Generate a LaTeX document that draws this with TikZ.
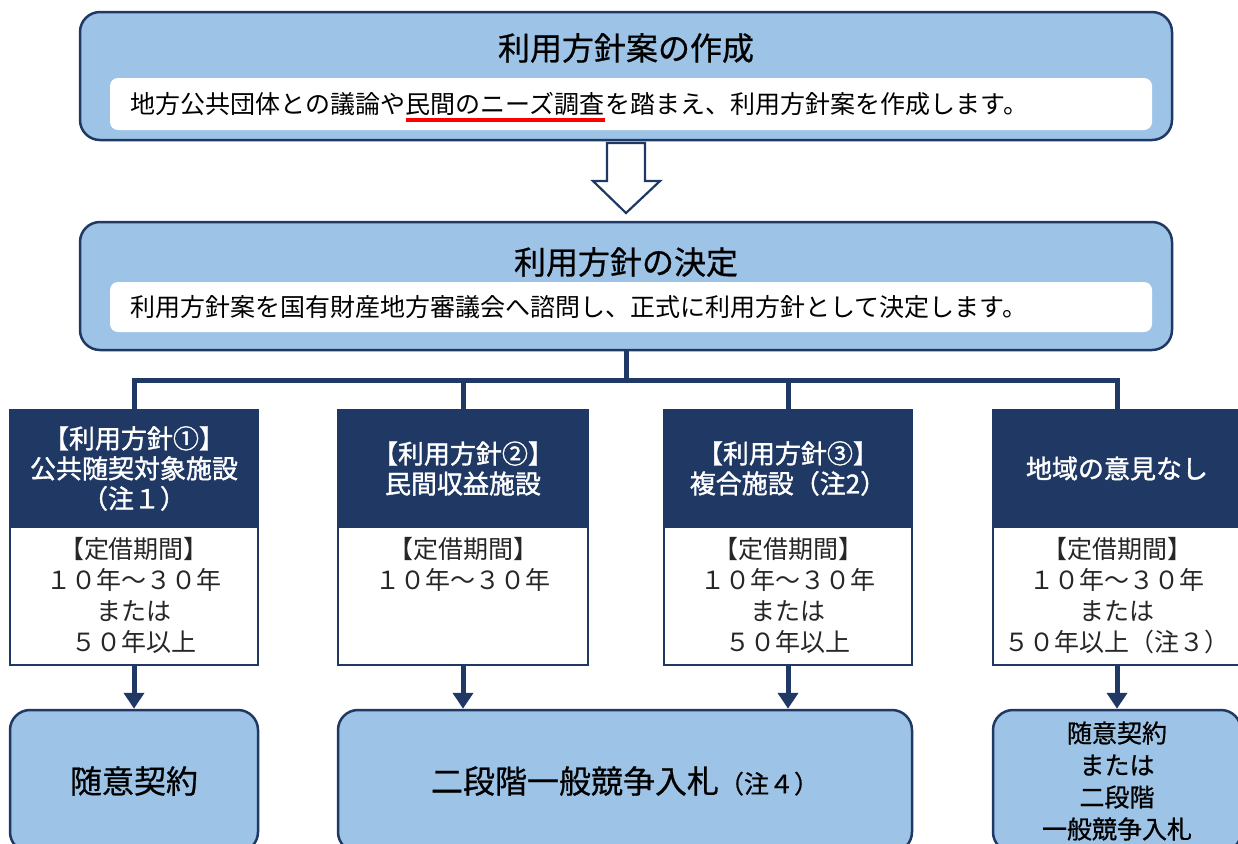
\documentclass[tikz,border=0pt]{standalone}
\usepackage{fontspec}
\setmainfont{Noto Sans CJK JP}
\newfontfamily\medfont[FakeBold=0.7]{Noto Sans CJK JP}
\newfontfamily\semifont[FakeBold=1.4]{Noto Sans CJK JP}
\usetikzlibrary{arrows.meta}
\definecolor{lb}{HTML}{9DC3E6}
\definecolor{navy}{HTML}{1F3864}
\definecolor{txt}{HTML}{262626}
\begin{document}
\begin{tikzpicture}[x=0.5pt,y=-0.5pt,
  bigbox/.style={draw=navy, line width=1.25pt, fill=lb, rounded corners=10pt, inner sep=0pt, minimum width=546pt, minimum height=64pt},
  whitebar/.style={fill=white, rounded corners=4pt, inner sep=0pt, minimum width=521pt, minimum height=26pt},
  titletxt/.style={font=\medfont\fontsize{16}{19}\selectfont, inner sep=0pt},
  subtxt/.style={font=\fontsize{12.5}{15}\selectfont, inner sep=0pt, anchor=west},
  headbox/.style={draw=navy, fill=navy, line width=1pt, text=white, align=center, font=\semifont\fontsize{13}{15}\selectfont, minimum width=124pt, minimum height=58.5pt, inner sep=0pt},
  bodybox/.style={draw=navy, fill=white, line width=1pt, minimum width=124pt, minimum height=69pt, inner sep=0pt},
  bodytxt/.style={text=txt, align=center, font=\fontsize{12.5}{15.5}\selectfont, inner sep=0pt, anchor=north},
  resbox/.style={draw=navy, line width=1.25pt, fill=lb, rounded corners=10pt, inner sep=0pt, minimum height=71pt, align=center},
  conn/.style={draw=navy, line width=2.5pt},
  arr/.style={draw=navy, line width=2.5pt, -{Triangle[width=10pt,length=8pt]}}
]
\useasboundingbox (0,0) rectangle (1238,843);

% top box
\node[bigbox] (make) at (626,76) {};
\node[titletxt] (maket) at (626,48) {利用方針案の作成};
\node[whitebar] (makew) at (631,104) {};
\node[subtxt] (s1) at (130,104) {地方公共団体との議論や};
\node[subtxt] (s2) at (s1.east) {民間のニーズ調査};
\node[subtxt] (s3) at (s2.east) {を踏まえ、利用方針案を作成します。};
\draw[red, line width=1.6pt] ([yshift=-2pt]s2.south west) -- ([yshift=-2pt]s2.south east);

% hollow arrow
\draw[navy, line width=1.1pt, fill=white, line join=miter]
  (607,143) -- (645,143) -- (645,181) -- (660,181) -- (626,213) -- (593,181) -- (607,181) -- cycle;

% second box
\node[bigbox] (dec) at (626,286) {};
\node[titletxt] (dect) at (626,262) {利用方針の決定};
\node[whitebar, minimum height=25pt] (decw) at (631,307) {};
\node[subtxt] (d1) at (130,307) {利用方針案を国有財産地方審議会へ諮問し、正式に利用方針として決定します。};

% columns
\node[headbox] (h1) at (134,468.5) {【利用方針①】\\公共随契対象施設\\（注１）};
\node[headbox, minimum width=125pt] (h2) at (463,468.5) {【利用方針②】\\民間収益施設};
\node[headbox] (h3) at (788,468.5) {【利用方針③】\\複合施設（注2）};
\node[headbox] (h4) at (1117,468.5) {地域の意見なし};

\node[bodybox] (b1) at (134,596) {};
\node[bodybox, minimum width=125pt] (b2) at (463,596) {};
\node[bodybox] (b3) at (788,596) {};
\node[bodybox] (b4) at (1117,596) {};

\node[bodytxt] (t1) at ([yshift=-5.5pt]b1.north) {【定借期間】\\１０年～３０年\\または\\５０年以上};
\node[bodytxt] (t2) at ([yshift=-5.5pt]b2.north) {【定借期間】\\１０年～３０年};
\node[bodytxt] (t3) at ([yshift=-5.5pt]b3.north) {【定借期間】\\１０年～３０年\\または\\５０年以上};
\node[bodytxt] (t4) at ([yshift=-5.5pt]b4.north) {【定借期間】\\１０年～３０年\\または\\５０年以上（注３）};

% tree connectors
\coordinate (bus) at (626,380);
\draw[conn] (dec.south) -- (bus);
\draw[conn] (h1.north) |- (bus);
\draw[conn] (h2.north) |- (bus);
\draw[conn] (h3.north) |- (bus);
\draw[conn] (h4.north) |- (bus);

% result boxes
\node[resbox, minimum width=124pt, font=\medfont\fontsize{16}{19}\selectfont] (r1) at (134,781) {随意契約};
\node[resbox, minimum width=287pt, font=\medfont] (r2) at (625,781) {\fontsize{16}{19}\selectfont 二段階一般競争入札\fontsize{12.5}{14}\selectfont（注４）};
\node[resbox, minimum width=124pt, font=\medfont\fontsize{12.5}{16}\selectfont] (r3) at (1117,781) {随意契約\\または\\二段階\\一般競争入札};

% arrows
\draw[arr] (b1.south) -- (r1.north);
\draw[arr] (b2.south) -- (b2.south |- r2.north);
\draw[arr] (b3.south) -- (b3.south |- r2.north);
\draw[arr] (b4.south) -- (r3.north);
\end{tikzpicture}
\end{document}
